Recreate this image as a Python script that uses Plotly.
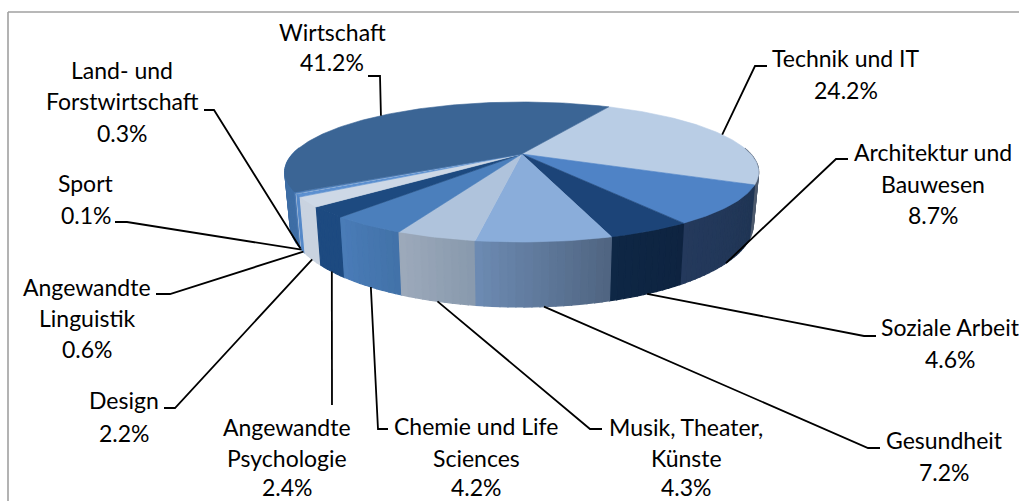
import math
import plotly.graph_objects as go

# ---- data ----
categories = ["Technik und IT", "Architektur und Bauwesen", "Soziale Arbeit", "Gesundheit",
              "Musik, Theater, Künste", "Chemie und Life Sciences", "Angewandte Psychologie",
              "Design", "Angewandte Linguistik", "Sport", "Land- und Forstwirtschaft", "Wirtschaft"]
shares = [24.2, 8.7, 4.6, 7.2, 4.3, 4.2, 2.4, 2.2, 0.6, 0.1, 0.3, 41.2]
label_lines = [["Technik und IT"], ["Architektur und", "Bauwesen"], ["Soziale Arbeit"], ["Gesundheit"],
               ["Musik, Theater,", "Künste"], ["Chemie und Life", "Sciences"], ["Angewandte", "Psychologie"],
               ["Design"], ["Angewandte", "Linguistik"], ["Sport"], ["Land- und", "Forstwirtschaft"], ["Wirtschaft"]]

# ---- styles ----
top_colors = ["#B9CDE5", "#4F83C6", "#1C4478", "#8AADDA", "#AFC3DC", "#4B7FBC",
              "#1D4A80", "#CDD8E6", "#5C90D0", "#D0DDF0", "#4F81BD", "#3B6595"]
side_start = ["#4E5B6E", "#1F3554", "#0E2340", "#4F6480", "#8899AD", "#4272A8",
              "#1D4A80", "#C9D3E0", "#5488C8", "#C9D3E0", "#4A7AB5", "#3E6EA6"]
side_end = ["#4E5B6E", "#24395C", "#0E2745", "#6D8BB3", "#9DAABB", "#4A7CB8",
            "#1D4A80", "#C9D3E0", "#5488C8", "#C9D3E0", "#4A7AB5", "#3B6595"]

# ---- layout: projection of the pie, label positions, leader elbows ----
W, H = 1019, 501
CX, CY, A, B, K = 521.7, 154.0, 229.0, 65.4, 0.257
DEPTH, BOTTOM_SHRINK = 48.3, 0.978
ROTATION = 27.8
FONT = "Lato"
FONT_SIZE = 23
label_x = [846, 933, 950, 944, 686, 476, 287, 124, 87, 86, 122, 332]
label_y = [[58, 90], [152, 184, 215], [327, 359], [440, 472], [427, 458, 487], [426, 458, 487],
           [427, 458, 487], [400, 433], [287, 318, 349], [183, 215], [70, 101, 133], [32, 62]]
elbows = [[(767, 66), (755, 66)], [(848, 159), (836, 159)], [(876, 336), (864, 336)], [(880, 448), (868, 448)],
          [(602, 429), (590, 429)], [(388, 429), (378, 429)], [(332, 405)], [(164, 408), (175, 408)],
          [(156, 294), (170, 294)], [(115, 222), (127, 222)], [(204, 110), (214, 110)], [(368, 76), (380, 76)]]


def top_pt(deg):
    t = math.radians(deg)
    u, v = math.sin(t), math.cos(t)
    w = 1 + K * v
    return CX + A * u / w, CY - B * v / w


def bot_pt(deg):
    x, y = top_pt(deg)
    w = 1 + K * math.cos(math.radians(deg))
    return CX + BOTTOM_SHRINK * (x - CX), y + DEPTH / w


def arc(fn, a0, a1):
    n = max(2, int(abs(a1 - a0)) + 2)
    return [fn(a0 + (a1 - a0) * i / (n - 1)) for i in range(n)]


def mix(c0, c1, f):
    p = [int(c0[i:i + 2], 16) for i in (1, 3, 5)]
    q = [int(c1[i:i + 2], 16) for i in (1, 3, 5)]
    return "#%02x%02x%02x" % tuple(round(a + (b - a) * f) for a, b in zip(p, q))


def poly(pts, color, name, lw=0.6):
    xs, ys = zip(*(pts + [pts[0]]))
    return go.Scatter(x=xs, y=ys, mode="lines", fill="toself", fillcolor=color,
                      line=dict(color=color, width=lw), name=name, hoverinfo="name", showlegend=False)


# slice angle spans, clockwise from the top
spans, a = [], ROTATION
for s in shares:
    spans.append((a, a + s * 3.6))
    a += s * 3.6

fig = go.Figure()

# side wall strips, far ones first
strips = []
for i, (a0, a1) in enumerate(spans):
    n = max(1, round((a1 - a0) / 1.5))
    for j in range(n):
        s0 = a0 + (a1 - a0) * j / n
        s1 = a0 + (a1 - a0) * (j + 1) / n
        if math.cos(math.radians((s0 + s1) / 2)) > 0.1:
            continue
        strips.append((s0, s1, mix(side_start[i], side_end[i], (j + 0.5) / n), categories[i]))
strips.sort(key=lambda r: -math.cos(math.radians((r[0] + r[1]) / 2)))
for s0, s1, col, nm in strips:
    fig.add_trace(poly(arc(top_pt, s0, s1) + arc(bot_pt, s1, s0), col, nm, lw=1.2))

# top faces
for i, (a0, a1) in enumerate(spans):
    fig.add_trace(poly([(CX, CY)] + arc(top_pt, a0, a1), top_colors[i], categories[i]))

# leader lines: they end where the slice's mid angle meets the visible rim
for i, (a0, a1) in enumerate(spans):
    mid = (a0 + a1) / 2
    end = top_pt(mid) if math.cos(math.radians(mid)) > 0 else bot_pt(mid)
    pts = elbows[i] + [end]
    fig.add_trace(go.Scatter(x=[p[0] for p in pts], y=[p[1] for p in pts], mode="lines",
                             line=dict(color="#000000", width=1.8), hoverinfo="skip", showlegend=False))

# labels
ann = []
for i in range(len(categories)):
    lines = label_lines[i] + ["%.1f%%" % shares[i]]
    for txt, y in zip(lines, label_y[i]):
        ann.append(dict(x=label_x[i], y=y, xref="x", yref="y", text=txt, showarrow=False,
                        xanchor="center", yanchor="middle",
                        font=dict(family=FONT, size=FONT_SIZE, color="#000000")))

# chart frame (only top and left edges are inside the picture)
frame = dict(type="line", xref="x", yref="y", line=dict(color="#A0A0A0", width=1.6))
shapes = [dict(frame, x0=8, x1=W, y0=12, y1=12), dict(frame, x0=8, x1=8, y0=12, y1=H)]

fig.update_layout(width=W, height=H, margin=dict(l=0, r=0, t=0, b=0), paper_bgcolor="white", plot_bgcolor="white",
                  xaxis=dict(range=[0, W], visible=False, fixedrange=True),
                  yaxis=dict(range=[H, 0], visible=False, fixedrange=True),
                  annotations=ann, shapes=shapes, showlegend=False)
fig.write_html("out.html", config=dict(displayModeBar=False),
               post_script="document.body.style.margin='0';document.body.style.overflow='hidden';")
